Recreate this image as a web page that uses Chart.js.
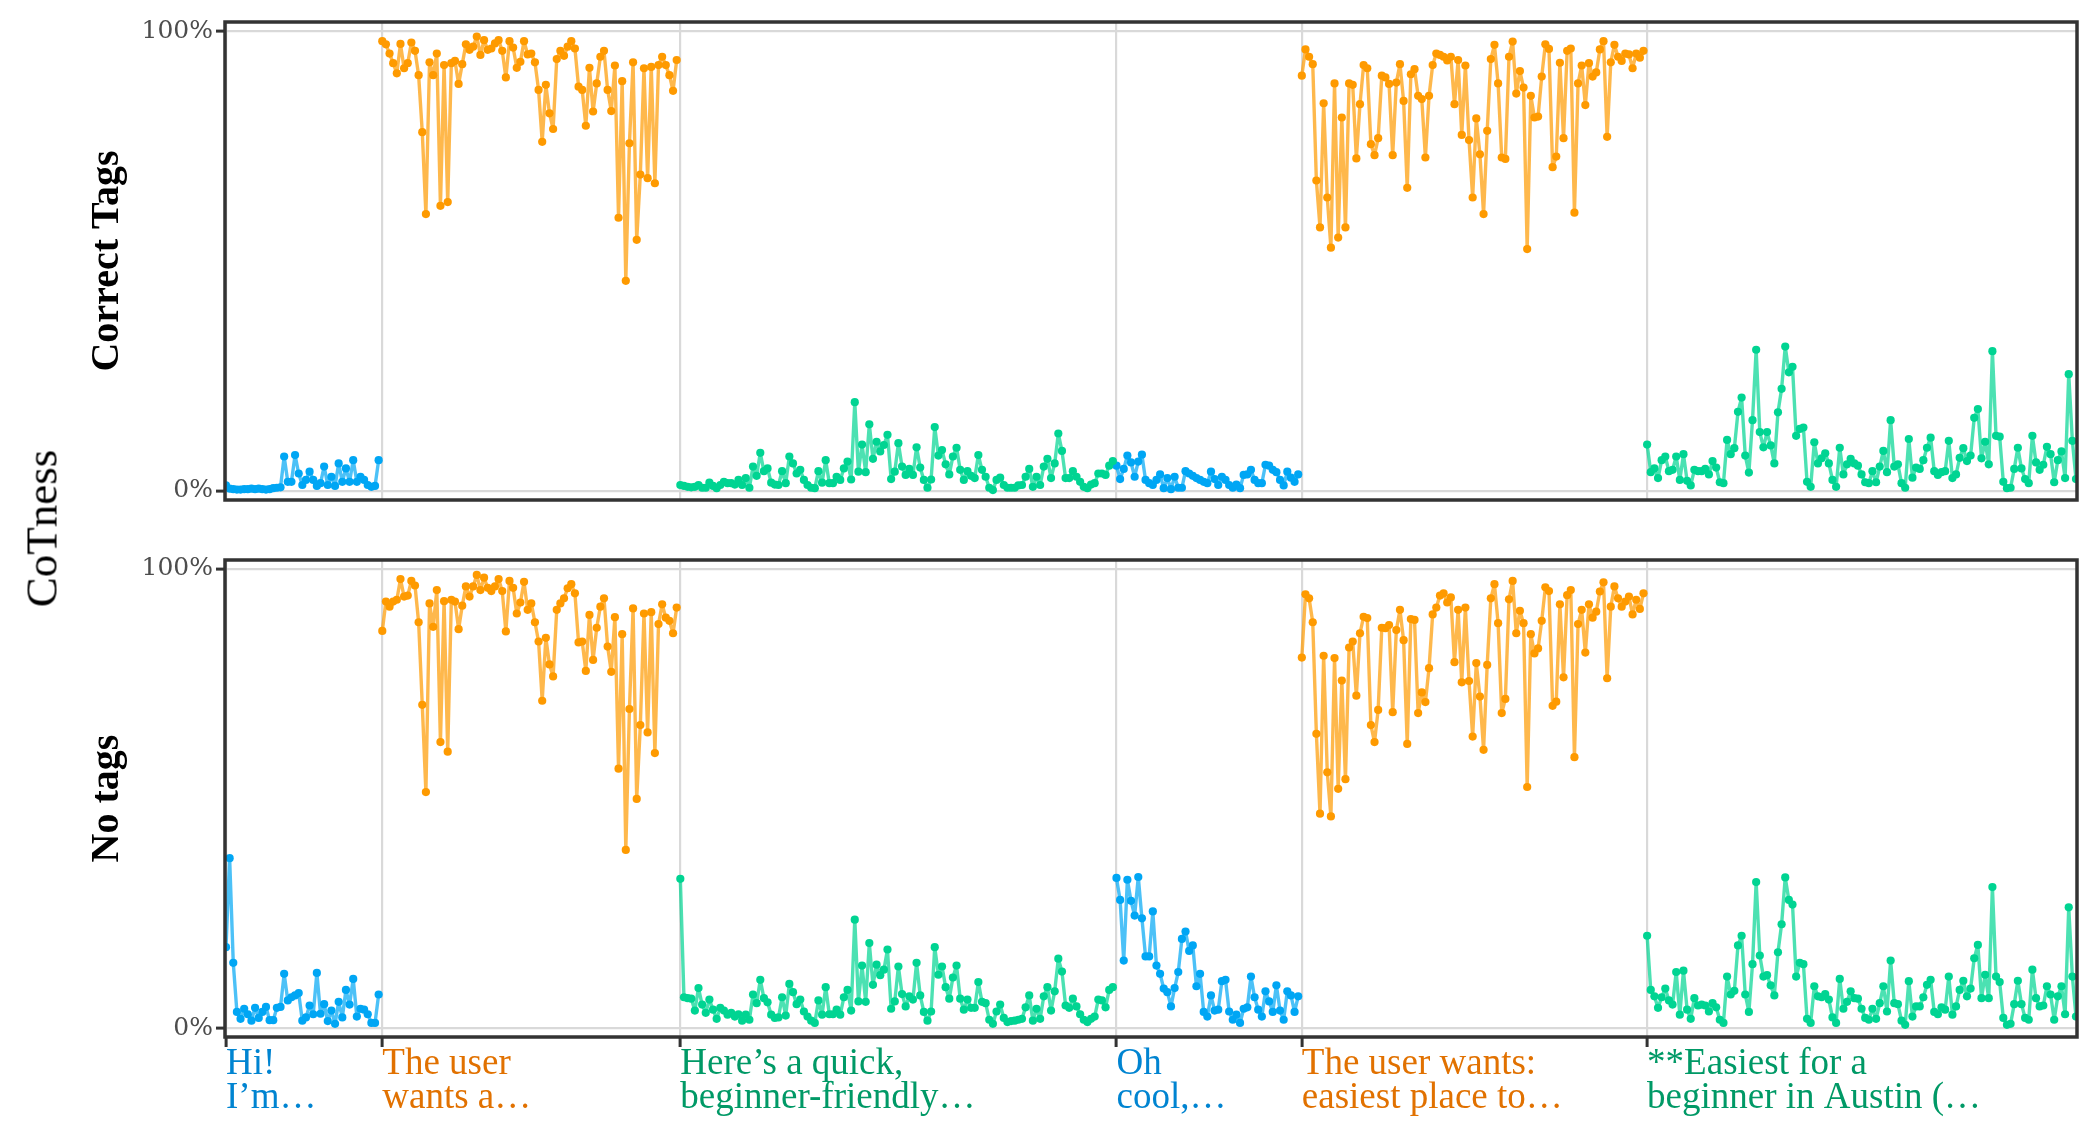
<!DOCTYPE html>
<html>
<head>
<meta charset="utf-8">
<script src="https://cdn.jsdelivr.net/npm/chart.js@4.4.1/dist/chart.umd.min.js"></script>
<style>
  body { margin: 0; background: #fff; width: 2100px; height: 1140px; position: relative; overflow: hidden; }
  canvas { position: absolute; left: 0; }
  #topChart { top: 0; }
  #bottomChart { top: 540px; }
  #yTitle {
    position: absolute; left: -112px; top: 506px; width: 300px; height: 45px;
    line-height: 45px; text-align: center; font: 45px "Liberation Serif", serif;
    color: #000; transform: rotate(-90deg);
  }
</style>
</head>
<body>
<canvas id="topChart" width="2100" height="520"></canvas>
<canvas id="bottomChart" width="2100" height="600"></canvas>
<div id="yTitle">CoTness</div>
<script>
// Segment text shown under the x axis
var SEGMENT_LABELS = [
  ['Hi!', 'I’m…'],
  ['The user', 'wants a…'],
  ['Here’s a quick,', 'beginner-friendly…'],
  ['Oh', 'cool,…'],
  ['The user wants:', 'easiest place to…'],
  ['**Easiest for a', 'beginner in Austin (…']
];
var SEGMENT_ROLES = ['user', 'thinking', 'response', 'user', 'thinking', 'response'];
var PANEL_TITLES = ['Correct Tags', 'No tags'];
var Y_TICKS = [0, 1];

// Correct Tags panel, one array per segment
var correctUser1 = [0.012,0.005,0.004,0.003,0.003,0.004,0.004,0.005,0.004,0.005,0.004,0.003,0.004,0.006,0.007,0.008,
  0.075,0.020,0.020,0.078,0.038,0.013,0.024,0.042,0.024,0.011,0.017,0.053,0.013,0.031,0.011,0.060,0.020,0.049,0.020,
  0.067,0.020,0.031,0.024,0.013,0.009,0.011,0.067];
var correctThink1 = [0.978,0.971,0.951,0.930,0.908,0.972,0.919,0.930,0.975,0.957,
  0.904,0.780,0.602,0.932,0.904,0.951,0.620,0.926,0.628,0.930,
  0.935,0.885,0.928,0.971,0.959,0.966,0.988,0.948,0.980,0.959,
  0.962,0.973,0.980,0.957,0.899,0.978,0.964,0.920,0.933,0.978,
  0.949,0.951,0.932,0.872,0.759,0.883,0.821,0.787,0.939,0.957,
  0.946,0.966,0.978,0.962,0.879,0.872,0.794,0.920,0.825,0.886,
  0.944,0.957,0.872,0.826,0.925,0.594,0.891,0.457,0.756,0.932,
  0.546,0.688,0.919,0.680,0.922,0.669,0.926,0.944,0.926,0.904,
  0.870,0.937];
var correctResp1 = [0.013,0.011,0.009,0.008,0.009,0.013,0.007,0.007,0.018,0.011,0.006,0.013,0.020,0.017,0.017,0.014,0.024,0.013,0.028,0.007,
  0.053,0.033,0.083,0.043,0.049,0.018,0.014,0.013,0.043,0.017,0.075,0.060,0.038,0.046,0.024,0.013,0.007,0.006,0.043,0.018,
  0.067,0.017,0.017,0.031,0.024,0.049,0.064,0.025,0.193,0.042,0.101,0.041,0.145,0.070,0.107,0.086,0.100,0.122,0.026,0.042,
  0.104,0.053,0.035,0.048,0.035,0.095,0.051,0.024,0.007,0.025,0.139,0.077,0.089,0.058,0.036,0.075,0.094,0.046,0.024,0.043,
  0.033,0.028,0.078,0.046,0.031,0.007,0.002,0.024,0.029,0.013,0.007,0.007,0.007,0.012,0.013,0.031,0.048,0.009,0.031,0.013,
  0.053,0.070,0.028,0.060,0.125,0.087,0.028,0.028,0.043,0.031,0.020,0.009,0.006,0.014,0.017,0.038,0.038,0.035,0.055,0.065];
var correctUser2 = [0.055,0.026,0.048,0.077,0.062,0.031,0.064,0.079,0.024,0.017,0.013,0.024,0.036,0.006,0.028,0.004,0.031,
  0.007,0.007,0.043,0.038,0.033,0.028,0.024,0.020,0.017,0.042,0.026,0.013,0.031,0.024,0.013,0.007,0.014,0.006,0.035,
  0.036,0.046,0.024,0.017,0.017,0.057,0.055,0.046,0.041,0.024,0.012,0.042,0.029,0.020,0.036];
var correctThink2 = [0.903,0.960,0.944,0.928,0.675,0.573,0.843,0.638,0.529,0.886,
  0.551,0.812,0.573,0.886,0.883,0.723,0.841,0.926,0.919,0.754,
  0.730,0.767,0.903,0.899,0.885,0.730,0.888,0.928,0.848,0.659,
  0.906,0.917,0.859,0.852,0.725,0.859,0.926,0.951,0.948,0.944,
  0.936,0.944,0.841,0.937,0.774,0.925,0.763,0.638,0.810,0.732,
  0.602,0.783,0.939,0.970,0.886,0.725,0.722,0.944,0.977,0.864,
  0.913,0.877,0.526,0.859,0.812,0.814,0.901,0.971,0.961,0.704,
  0.727,0.931,0.767,0.957,0.962,0.605,0.886,0.925,0.839,0.930,
  0.901,0.910,0.960,0.978,0.770,0.932,0.970,0.944,0.935,0.951,
  0.949,0.919,0.951,0.942,0.957];
var correctResp2 = [0.101,0.041,0.049,0.028,0.067,0.075,0.043,0.046,0.075,0.024,
  0.080,0.022,0.012,0.046,0.043,0.043,0.048,0.036,0.065,0.051,
  0.019,0.017,0.111,0.080,0.093,0.172,0.203,0.077,0.040,0.154,
  0.307,0.128,0.095,0.128,0.099,0.060,0.171,0.222,0.314,0.258,
  0.270,0.120,0.135,0.138,0.020,0.009,0.106,0.060,0.071,0.082,
  0.060,0.024,0.009,0.094,0.036,0.058,0.070,0.060,0.055,0.036,
  0.019,0.017,0.043,0.019,0.053,0.087,0.041,0.154,0.053,0.058,
  0.017,0.007,0.113,0.029,0.051,0.048,0.067,0.094,0.116,0.043,
  0.035,0.041,0.043,0.109,0.028,0.036,0.072,0.093,0.065,0.077,
  0.159,0.178,0.071,0.107,0.058,0.304,0.120,0.118,0.020,0.006,
  0.007,0.048,0.094,0.049,0.026,0.017,0.120,0.062,0.046,0.057,
  0.096,0.080,0.019,0.067,0.086,0.028,0.254,0.109,0.026];

// No tags panel
var noTagsUser1 = [0.176,0.370,0.142,0.035,0.020,0.042,0.030,0.016,0.044,0.022,
  0.035,0.046,0.017,0.017,0.044,0.046,0.118,0.060,0.067,0.071,
  0.076,0.016,0.023,0.049,0.030,0.120,0.031,0.052,0.015,0.038,
  0.009,0.057,0.023,0.083,0.051,0.107,0.025,0.042,0.040,0.030,
  0.011,0.011,0.073];
var noTagsThink1 = [0.865,0.929,0.918,0.929,0.933,0.978,0.940,0.942,0.974,0.964,
  0.884,0.704,0.514,0.925,0.874,0.954,0.623,0.930,0.602,0.933,
  0.929,0.869,0.920,0.962,0.940,0.962,0.987,0.954,0.981,0.959,
  0.952,0.962,0.978,0.952,0.864,0.974,0.959,0.903,0.927,0.972,
  0.911,0.925,0.884,0.842,0.713,0.850,0.792,0.766,0.911,0.925,
  0.936,0.958,0.967,0.947,0.840,0.842,0.778,0.900,0.802,0.872,
  0.918,0.936,0.831,0.776,0.895,0.565,0.858,0.388,0.695,0.914,
  0.499,0.660,0.903,0.644,0.906,0.599,0.880,0.923,0.894,0.887,
  0.860,0.916];
var noTagsResp1 = [0.325,0.067,0.065,0.064,0.038,0.087,0.051,0.033,0.062,0.040,0.020,0.044,0.038,0.029,0.033,0.025,0.030,0.016,0.029,0.018,
  0.073,0.054,0.105,0.065,0.056,0.029,0.022,0.023,0.067,0.027,0.096,0.078,0.052,0.062,0.036,0.025,0.016,0.011,0.060,0.029,
  0.089,0.030,0.030,0.040,0.029,0.067,0.083,0.038,0.236,0.058,0.136,0.057,0.185,0.094,0.138,0.115,0.127,0.171,0.042,0.058,
  0.134,0.074,0.047,0.069,0.062,0.142,0.071,0.035,0.016,0.036,0.176,0.116,0.134,0.089,0.064,0.110,0.136,0.064,0.040,0.062,
  0.044,0.044,0.100,0.057,0.054,0.018,0.009,0.036,0.051,0.022,0.013,0.015,0.016,0.018,0.020,0.045,0.071,0.016,0.042,0.020,
  0.069,0.089,0.038,0.080,0.151,0.123,0.049,0.044,0.064,0.047,0.030,0.018,0.013,0.020,0.025,0.062,0.060,0.045,0.083,0.089];
var noTagsUser2 = [0.327,0.279,0.147,0.323,0.277,0.245,0.329,0.239,0.156,0.156,
  0.254,0.136,0.118,0.086,0.078,0.047,0.087,0.122,0.194,0.210,
  0.168,0.180,0.091,0.118,0.035,0.025,0.071,0.038,0.040,0.102,
  0.105,0.036,0.018,0.029,0.011,0.042,0.045,0.112,0.067,0.040,
  0.025,0.080,0.058,0.035,0.093,0.038,0.018,0.080,0.071,0.035,
  0.069];
var noTagsThink2 = [0.807,0.945,0.936,0.884,0.641,0.467,0.811,0.557,0.461,0.806,
  0.521,0.757,0.542,0.829,0.842,0.724,0.860,0.896,0.893,0.660,
  0.623,0.693,0.872,0.871,0.878,0.688,0.867,0.911,0.845,0.619,
  0.891,0.889,0.686,0.731,0.710,0.784,0.901,0.916,0.942,0.947,
  0.927,0.938,0.797,0.911,0.753,0.916,0.756,0.635,0.795,0.722,
  0.606,0.791,0.936,0.967,0.882,0.686,0.717,0.934,0.974,0.860,
  0.909,0.882,0.525,0.858,0.816,0.827,0.887,0.960,0.952,0.702,
  0.711,0.923,0.764,0.943,0.954,0.590,0.880,0.911,0.818,0.923,
  0.894,0.907,0.951,0.971,0.762,0.918,0.962,0.936,0.918,0.929,
  0.940,0.901,0.933,0.913,0.947];
var noTagsResp2 = [0.201,0.083,0.069,0.044,0.067,0.086,0.060,0.051,0.122,0.029,
  0.125,0.040,0.020,0.065,0.049,0.051,0.049,0.036,0.054,0.045,
  0.018,0.011,0.112,0.073,0.081,0.180,0.201,0.073,0.035,0.139,
  0.318,0.158,0.112,0.115,0.093,0.071,0.165,0.226,0.328,0.279,
  0.269,0.112,0.142,0.139,0.020,0.011,0.091,0.069,0.067,0.074,
  0.062,0.023,0.011,0.107,0.042,0.057,0.080,0.065,0.064,0.042,
  0.022,0.018,0.042,0.020,0.054,0.091,0.036,0.147,0.054,0.052,
  0.016,0.007,0.102,0.025,0.047,0.047,0.067,0.094,0.105,0.035,
  0.030,0.045,0.040,0.112,0.029,0.047,0.083,0.103,0.069,0.086,
  0.152,0.181,0.065,0.116,0.065,0.307,0.112,0.100,0.022,0.007,
  0.009,0.052,0.103,0.052,0.022,0.018,0.127,0.065,0.047,0.049,
  0.091,0.073,0.018,0.069,0.091,0.030,0.263,0.112,0.025];

var correctSegments = [correctUser1, correctThink1, correctResp1, correctUser2, correctThink2, correctResp2];
var noTagsSegments = [noTagsUser1, noTagsThink1, noTagsResp1, noTagsUser2, noTagsThink2, noTagsResp2];

var POINT_COLORS = { user: '#00a6f4', thinking: '#fe9a00', response: '#00d492' };
var LINE_COLORS = { user: 'rgba(0,166,244,0.7)', thinking: 'rgba(254,154,0,0.7)', response: 'rgba(0,212,146,0.7)' };
var TEXT_COLORS = { user: '#0084d1', thinking: '#e17100', response: '#009966' };

// segment start positions on the token axis
var segStarts = [];
var total = 0;
correctSegments.forEach(function (s) { segStarts.push(total); total += s.length; });

function buildDatasets(segments) {
  return segments.map(function (seg, k) {
    var role = SEGMENT_ROLES[k];
    return {
      data: seg.map(function (v, j) { return { x: segStarts[k] + j, y: v }; }),
      borderColor: LINE_COLORS[role],
      backgroundColor: POINT_COLORS[role],
      pointBackgroundColor: POINT_COLORS[role],
      pointBorderWidth: 0,
      pointRadius: 4.1,
      borderWidth: 3.4,
      borderJoinStyle: 'round',
      borderCapStyle: 'round',
      tension: 0
    };
  });
}

// panel frame and facet title
var panelDecor = {
  id: 'panelDecor',
  afterDraw: function (chart) {
    var ca = chart.chartArea;
    var ctx = chart.ctx;
    ctx.save();
    ctx.strokeStyle = '#333333';
    ctx.lineWidth = 3.5;
    ctx.strokeRect(ca.left - 1, ca.top, ca.right - ca.left + 2, ca.bottom - ca.top);
    ctx.translate(118, (ca.top + ca.bottom) / 2);
    ctx.rotate(-Math.PI / 2);
    ctx.font = 'bold 40px "Liberation Serif"';
    ctx.fillStyle = '#000';
    ctx.textAlign = 'center';
    ctx.textBaseline = 'alphabetic';
    ctx.fillText(chart.options.plugins.panelDecor.title, 0, 0);
    ctx.restore();
  }
};

function makeChart(id, segments, title, showLabels, padTop, padBottom, xHeight) {
  var ctx = document.getElementById(id).getContext('2d');
  return new Chart(ctx, {
    type: 'line',
    data: { datasets: buildDatasets(segments) },
    options: {
      responsive: false,
      animation: false,
      layout: { padding: { left: 0, right: 24, top: padTop, bottom: padBottom } },
      plugins: {
        legend: { display: false },
        tooltip: { enabled: false },
        panelDecor: { title: title }
      },
      scales: {
        x: {
          type: 'linear',
          min: 0,
          max: total - 1,
          afterBuildTicks: function (s) { s.ticks = segStarts.map(function (v) { return { value: v }; }); },
          afterFit: function (s) { s.height = xHeight; },
          border: { display: false },
          grid: { color: '#d9d9d9', lineWidth: 2.2, drawTicks: showLabels, tickLength: 10, tickColor: '#333333', tickWidth: 3 },
          ticks: {
            display: showLabels,
            autoSkip: false,
            maxRotation: 0,
            minRotation: 0,
            align: 'start',
            padding: 0,
            font: { family: '"Liberation Serif"', size: 37, lineHeight: 0.93 },
            color: function (c) { return TEXT_COLORS[SEGMENT_ROLES[c.index]]; },
            callback: function (v, i) { return SEGMENT_LABELS[i]; }
          }
        },
        y: {
          min: -0.0196,
          max: 1.0196,
          afterBuildTicks: function (s) { s.ticks = Y_TICKS.map(function (v) { return { value: v }; }); },
          afterFit: function (s) { s.width = 226; },
          border: { display: false },
          grid: { color: '#d9d9d9', lineWidth: 2.2, tickLength: 10, tickColor: '#333333', tickWidth: 3 },
          ticks: {
            padding: 3,
            font: { family: '"DejaVu Serif"', size: 25 },
            color: '#4d4d4d',
            callback: function (v) { return Math.round(v * 100) + '%'; }
          }
        }
      }
    },
    plugins: [panelDecor]
  });
}

var topChart = makeChart('topChart', correctSegments, PANEL_TITLES[0], false, 22, 20, 0);
var bottomChart = makeChart('bottomChart', noTagsSegments, PANEL_TITLES[1], true, 20, 0, 103);
</script>
</body>
</html>
